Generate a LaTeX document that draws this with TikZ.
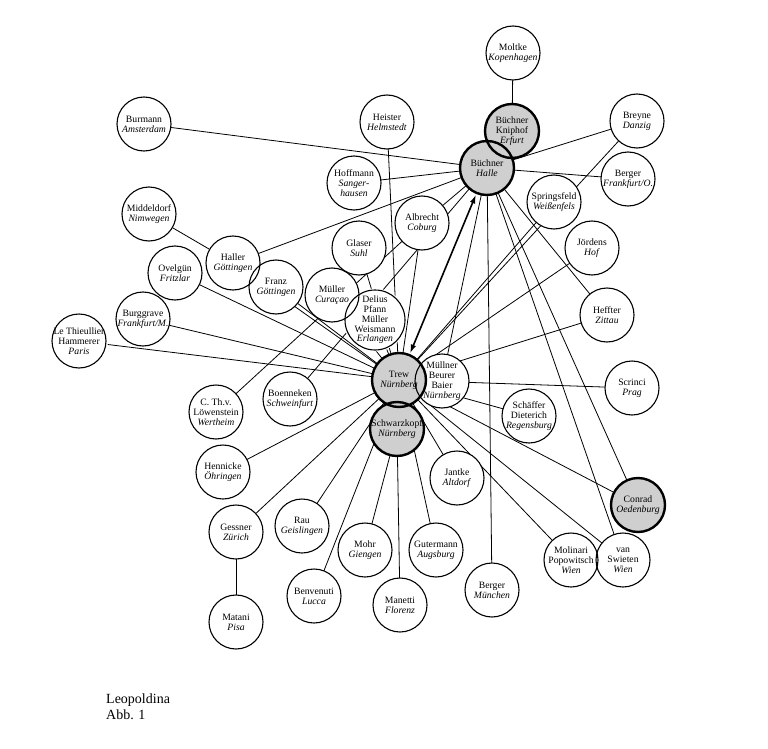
\documentclass[tikz,border=0pt]{standalone}
\usepackage{fontspec}
\setmainfont{Liberation Serif}
\usetikzlibrary{arrows.meta,backgrounds}
\definecolor{HubGray}{HTML}{CFCFCF}

\begin{document}
\begin{tikzpicture}[x=1pt,y=-1pt,
  pers/.style={circle,fill=white,minimum size=54pt,inner sep=0pt,align=center,
               font=\fontsize{9.7}{9.8}\selectfont},
  hub/.style={pers,fill=HubGray},
  link/.style={line width=0.8pt},
  ring/.style={draw,line width=1.1pt},
  hubring/.style={draw,line width=2.4pt},
  twoway/.style={{Latex[length=9pt,width=5.5pt]}-{Latex[length=9pt,width=5.5pt]},
                 line width=1.6pt,shorten <=1.5pt,shorten >=1.5pt},
  caption/.style={anchor=base west,inner sep=0pt,font=\fontsize{14}{16}\selectfont}]
\useasboundingbox (0,0) rectangle (768,749);

% correspondents
\node[pers] (moltke) at (513,53) {Moltke\\\textit{Kopenhagen}};
\node[pers] (breyne) at (637,121) {Breyne\\\textit{Danzig}};
\node[pers] (bergerfo) at (628,179) {Berger\\\textit{Frankfurt/O.}};
\node[pers] (springsfeld) at (554,202) {Springsfeld\\\textit{Weißenfels}};
\node[pers] (joerdens) at (592,248) {Jördens\\\textit{Hof}};
\node[pers] (heffter) at (607,315) {Heffter\\\textit{Zittau}};
\node[pers] (scrinci) at (632,388) {Scrinci\\\textit{Prag}};
\node[pers] (schaeffer) at (529,416) {Schäffer\\Dieterich\\\textit{Regensburg}};
\node[pers] (muellner) at (442,381) {Müllner\\Beurer\\Baier\\\textit{Nürnberg}};
\node[pers] (jantke) at (457,478) {Jantke\\\textit{Altdorf}};
\node[pers] (molinari) at (571,560) {Molinari\\Popowitsch\\\textit{Wien}};
\node[pers] (swieten) at (623,560) {van\\Swieten\\\textit{Wien}};
\node[pers] (bergerm) at (492,590) {Berger\\\textit{München}};
\node[pers] (gutermann) at (436,550) {Gutermann\\\textit{Augsburg}};
\node[pers] (manetti) at (400,605) {Manetti\\\textit{Florenz}};
\node[pers] (mohr) at (365,550) {Mohr\\\textit{Giengen}};
\node[pers] (benvenuti) at (314,596) {Benvenuti\\\textit{Lucca}};
\node[pers] (rau) at (302,526) {Rau\\\textit{Geislingen}};
\node[pers] (gessner) at (236,532) {Gessner\\\textit{Zürich}};
\node[pers] (matani) at (236,622) {Matani\\\textit{Pisa}};
\node[pers] (hennicke) at (223,472) {Hennicke\\\textit{Öhringen}};
\node[pers] (loewenstein) at (216,412) {C. Th.v.\\Löwenstein\\\textit{Wertheim}};
\node[pers] (boenneken) at (290,399) {Boenneken\\\textit{Schweinfurt}};
\node[pers] (thieullier) at (79,341) {Le Thieullier\\Hammerer\\\textit{Paris}};
\node[pers] (burggrave) at (143,319) {Burggrave\\\textit{Frankfurt/M.}};
\node[pers] (ovelguen) at (175,273) {Ovelgün\\\textit{Fritzlar}};
\node[pers] (middeldorf) at (149,214) {Middeldorf\\\textit{Nimwegen}};
\node[pers] (haller) at (233,263) {Haller\\\textit{Göttingen}};
\node[pers] (franz) at (276,287) {Franz\\\textit{Göttingen}};
\node[pers] (muellerc) at (332,295) {Müller\\\textit{Curaçao}};
\node[pers] (glaser) at (359,248) {Glaser\\\textit{Suhl}};
\node[pers,minimum size=60pt] (delius) at (375,320) {Delius\\Pfann\\Müller\\Weismann\\\textit{Erlangen}};
\node[pers] (albrecht) at (422,223) {Albrecht\\\textit{Coburg}};
\node[pers] (hoffmann) at (354,183) {Hoffmann\\\textit{Sanger-}\\\textit{hausen}};
\node[pers] (heister) at (387,122) {Heister\\\textit{Helmstedt}};
\node[pers] (burmann) at (144,124) {Burmann\\\textit{Amsterdam}};

% hubs
\node[hub] (kniphof) at (512,131) {Büchner\\Kniphof\\\textit{Erfurt}};
\node[hub] (halle) at (487,168) {Büchner\\\textit{Halle}};
\node[hub] (conrad) at (638,505) {Conrad\\\textit{Oedenburg}};
\node[hub] (trew) at (399,380) {Trew\\\textit{Nürnberg}};
\node[hub] (schwarzkopf) at (397,429) {Schwarzkopf\\\textit{Nürnberg}};

% letters
\begin{scope}[on background layer]
\foreach \a/\b in {moltke/kniphof, breyne/halle, bergerfo/halle, heffter/halle,
    conrad/halle, swieten/halle, bergerm/halle, muellner/halle, albrecht/halle,
    boenneken/halle, hoffmann/halle, haller/halle, burmann/halle,
    breyne/trew, springsfeld/trew, joerdens/trew, heffter/trew, scrinci/trew,
    schaeffer/trew, conrad/trew, swieten/trew, molinari/trew, jantke/trew,
    gutermann/trew, benvenuti/trew, rau/trew, gessner/trew, hennicke/trew,
    thieullier/trew, burggrave/trew, ovelguen/trew, haller/trew, franz/trew,
    muellerc/trew, glaser/trew, delius/trew, albrecht/trew, heister/trew,
    manetti/schwarzkopf, mohr/schwarzkopf, gessner/matani,
    middeldorf/haller, albrecht/loewenstein}
  \draw[link] (\a) -- (\b);
\end{scope}
\draw[twoway] (halle) -- (trew);

% outlines
\foreach \n in {moltke,breyne,bergerfo,springsfeld,joerdens,heffter,scrinci,
    schaeffer,muellner,jantke,molinari,swieten,bergerm,gutermann,manetti,mohr,
    benvenuti,rau,gessner,matani,hennicke,loewenstein,boenneken,thieullier,
    burggrave,ovelguen,middeldorf,haller,franz,muellerc,glaser,albrecht,
    hoffmann,heister,burmann}
  \draw[ring] (\n.center) circle[radius=27pt];
\draw[ring] (delius.center) circle[radius=30pt];
\foreach \n in {kniphof,halle,conrad,trew,schwarzkopf}
  \draw[hubring] (\n.center) circle[radius=27pt];

\node[caption] (source) at (106,703) {Leopoldina};
\node[caption] (figno) at (106,719) {Abb. 1};
\end{tikzpicture}
\end{document}
